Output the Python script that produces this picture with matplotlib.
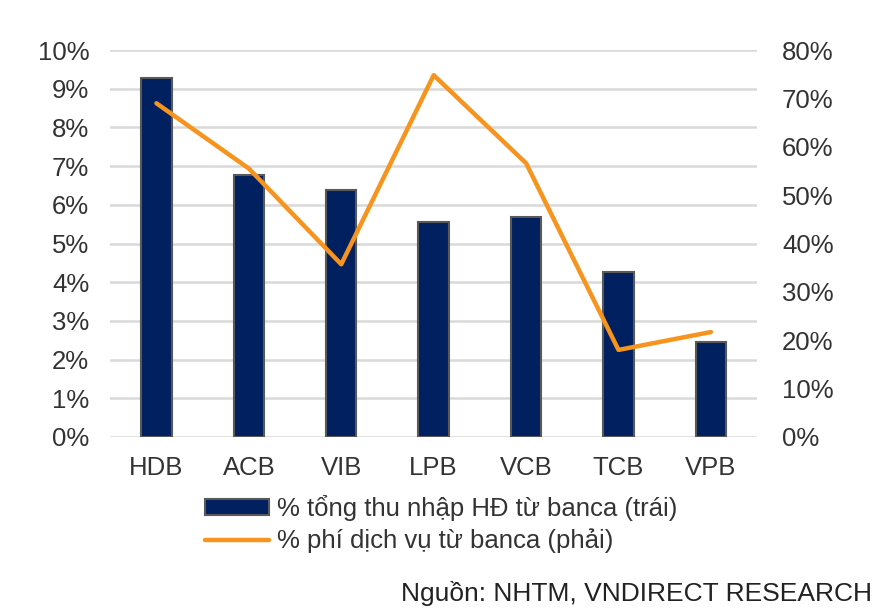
import matplotlib.pyplot as plt
import numpy as np
from matplotlib.ticker import FuncFormatter

plt.rcParams['font.family'] = ['Liberation Sans', 'DejaVu Sans']

banks = ['HDB', 'ACB', 'VIB', 'LPB', 'VCB', 'TCB', 'VPB']
banca_income = [9.28, 6.78, 6.38, 5.56, 5.68, 4.26, 2.45]   # % tong thu nhap (trai)
banca_fee = [69.0, 55.5, 35.7, 74.8, 56.6, 18.0, 21.7]       # % phi dich vu (phai)

navy = '#002060'
orange = '#F7941D'
fs = 18.5

fig = plt.figure(figsize=[8.96, 6.16], dpi=100)
ax = fig.add_axes([0.123, 0.2906, 0.722, 0.6282])
ax2 = ax.twinx()

x = np.arange(len(banks))
bars = ax.bar(x, banca_income, width=0.33, color=navy, edgecolor='#595959', linewidth=1.5,
              label='% tổng thu nhập HĐ từ banca (trái)', zorder=3)
line, = ax2.plot(x, banca_fee, color=orange, linewidth=3.2, solid_capstyle='round',
                 label='% phí dịch vụ từ banca (phải)', zorder=4)

ax.set_xlim(-0.5, len(banks) - 0.5)
ax.set_ylim(0, 10)
ax.set_yticks(np.arange(0, 11, 1))
ax.yaxis.set_major_formatter(FuncFormatter(lambda v, p: f'{v:.0f}%'))
ax2.set_ylim(0, 80)
ax2.set_yticks(np.arange(0, 81, 10))
ax2.yaxis.set_major_formatter(FuncFormatter(lambda v, p: f'{v:.0f}%'))

ax.grid(axis='y', color='#d9d9d9', linewidth=1.8, zorder=0)
ax.set_axisbelow(True)
ax.set_xticks(x)
ax.set_xticklabels(banks)

for a in (ax, ax2):
    for s in a.spines.values():
        s.set_visible(False)
    a.tick_params(length=0, labelsize=fs, colors='#333333')
ax.tick_params(axis='y', pad=15)
ax2.tick_params(axis='y', pad=18)
ax.tick_params(axis='x', pad=14)

ax.set_zorder(ax2.get_zorder() - 1)
ax.patch.set_visible(False)

fig.legend([bars, line], [bars.get_label(), line.get_label()],
           loc='center', bbox_to_anchor=(0.492, 0.149), frameon=False,
           fontsize=fs, handlelength=2.5, handleheight=0.55, labelspacing=0.3,
           handletextpad=0.3, labelcolor='#333333')

fig.text(0.973, 0.037, 'Nguồn: NHTM, VNDIRECT RESEARCH', ha='right', va='center',
         fontsize=19, color='#222222')

fig.savefig('out.png', dpi=100)
